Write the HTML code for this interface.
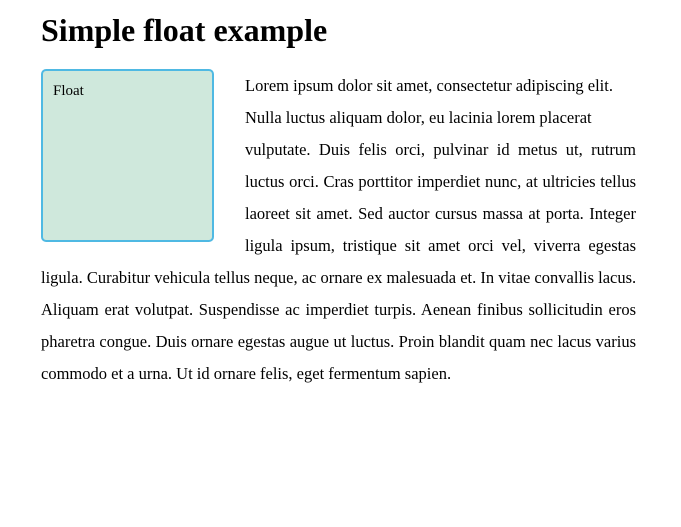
<!DOCTYPE html>
<html><head><meta charset="utf-8"><style>
html,body{margin:0;padding:0;background:#fff;}
body{width:595px;margin-left:41px;font-family:"Liberation Serif",serif;color:#000;}
h1{font-size:32px;font-weight:bold;margin:0;padding-top:11px;line-height:38px;height:58px;}
.box{float:left;width:149px;height:149px;margin-right:31px;padding:10px;border:2px solid rgb(79,185,227);border-radius:5px;background:rgb(207,232,220);font-size:15px;line-height:20px;}
p{margin:0;padding-top:1px;font-size:16.5px;line-height:32px;}
p span{display:block;white-space:nowrap;text-align:justify;text-align-last:justify;}
p span.l{text-align:left;text-align-last:left;}
</style></head><body>
<h1>Simple float example</h1>
<div class="box">Float</div>
<p><span class="l">Lorem ipsum dolor sit amet, consectetur adipiscing elit.</span><span class="l">Nulla luctus aliquam dolor, eu lacinia lorem placerat</span><span>vulputate. Duis felis orci, pulvinar id metus ut, rutrum</span><span>luctus orci. Cras porttitor imperdiet nunc, at ultricies tellus</span><span>laoreet sit amet. Sed auctor cursus massa at porta. Integer</span><span>ligula ipsum, tristique sit amet orci vel, viverra egestas</span><span>ligula. Curabitur vehicula tellus neque, ac ornare ex malesuada et. In vitae convallis lacus.</span><span>Aliquam erat volutpat. Suspendisse ac imperdiet turpis. Aenean finibus sollicitudin eros</span><span>pharetra congue. Duis ornare egestas augue ut luctus. Proin blandit quam nec lacus varius</span><span class="l">commodo et a urna. Ut id ornare felis, eget fermentum sapien.</span></p>
</body></html>
